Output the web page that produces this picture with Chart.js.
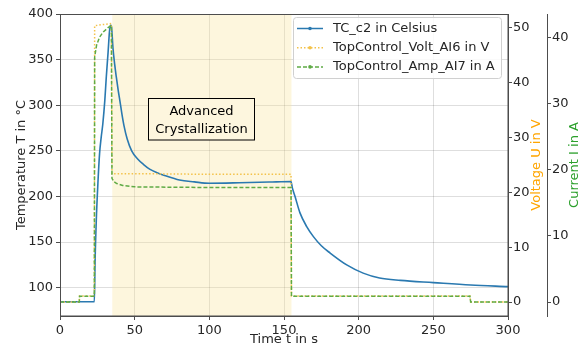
<!DOCTYPE html>
<html>
<head>
<meta charset="utf-8">
<script src="https://cdn.jsdelivr.net/npm/chart.js@4"></script>
<style>
  html, body { margin: 0; padding: 0; background: #fff; }
  #wrap { width: 585px; height: 349px; }
</style>
</head>
<body>
<div id="wrap"><canvas id="tempChart" width="585" height="349"></canvas></div>
<script>
// values
const tempTime = [0, 23.0, 23.5, 24.3, 25.4, 26.5, 27.6, 28.7, 30.0, 31.0, 32.2, 33.2, 34.0, 34.5, 35.5, 36.6, 37.7, 39.0, 40.0, 41.5, 42.8, 45.0, 48.0, 52.0, 56.0, 60.0, 65.0, 70.0, 80.0, 90.0, 100.0, 120.0, 140.0, 154.7, 155.5, 157.4, 160.7, 165.2, 169.7, 175.0, 180.9, 192.0, 203.0, 214.0, 228.0, 250.0, 275.0, 300.0];
const tempValues = [84.6, 84.6, 130, 174, 215, 247, 265, 280, 305, 331, 358, 382, 388, 386, 362, 345, 331, 316, 306, 290, 278, 263, 250, 241, 235, 230, 226, 223, 218, 216, 214.5, 215, 215.8, 216.4, 210, 200, 182, 167, 156, 146, 138, 125, 116, 110.6, 108, 105.6, 103, 101.2];

const voltTime = [0, 12.9, 13.1, 23.0, 23.2, 28.0, 34.4, 34.8, 60.0, 100.0, 154.7, 155.0, 274.5, 275.0, 300.0];
const voltValues = [0, 0, 1.1, 1.1, 50.4, 50.6, 50.8, 23.4, 23.4, 23.3, 23.3, 1.1, 1.1, 0, 0];

const ampTime = [0, 12.9, 13.1, 23.0, 23.2, 24.5, 26.5, 29.0, 32.0, 34.4, 34.8, 36.0, 38.0, 42.0, 50.0, 100.0, 154.7, 155.0, 274.5, 275.0, 300.0];
const ampValues = [0, 0, 0.9, 0.9, 37.0, 38.8, 40.0, 40.8, 41.4, 41.8, 18.7, 18.2, 17.9, 17.6, 17.4, 17.3, 17.3, 0.9, 0.9, 0, 0];

const timeTicks = [0, 50, 100, 150, 200, 250, 300];
const tempTicks = [100, 150, 200, 250, 300, 350, 400];
const voltTicks = [0, 10, 20, 30, 40, 50];
const ampTicks = [0, 10, 20, 30, 40];

const phaseStart = 35;
const phaseEnd = 155;
const phaseLabel = ["Advanced", "Crystallization"];

const seriesNames = ["TC_c2 in Celsius", "TopControl_Volt_AI6 in V", "TopControl_Amp_AI7 in A"];
const colors = ["#2a79b0", "#f3c24a", "#5fab45"];

function pairs(xs, ys) {
  return xs.map((x, i) => ({ x: x, y: ys[i] }));
}

Chart.defaults.font.family = "'DejaVu Sans', sans-serif";
Chart.defaults.font.size = 13;
Chart.defaults.color = "#262626";

const spine = "#4d4d4d";
const gridColor = "rgba(0,0,0,0.13)";

// shaded phase behind the lines
const phasePlugin = {
  id: "phase",
  beforeDatasetsDraw(chart) {
    const { ctx, chartArea, scales } = chart;
    const x1 = scales.x.getPixelForValue(phaseStart);
    const x2 = scales.x.getPixelForValue(phaseEnd);
    ctx.save();
    ctx.fillStyle = "rgba(250,228,150,0.32)";
    ctx.fillRect(x1, chartArea.top, x2 - x1, chartArea.bottom - chartArea.top);
    ctx.restore();
  }
};

// frame, titles, annotation box and legend
const decorPlugin = {
  id: "decor",
  afterDraw(chart) {
    const { ctx, chartArea } = chart;
    ctx.save();
    ctx.strokeStyle = spine;
    ctx.lineWidth = 1;
    ctx.strokeRect(chartArea.left + 0.5, chartArea.top + 0.5, chartArea.right - chartArea.left - 0.5, chartArea.bottom - chartArea.top - 0.5);

    ctx.font = "13px 'DejaVu Sans'";
    ctx.textAlign = "center";
    ctx.textBaseline = "middle";
    const midY = (chartArea.top + chartArea.bottom) / 2;

    ctx.fillStyle = "#262626";
    ctx.fillText("Time t in s", (chartArea.left + chartArea.right) / 2, 340);

    const vTitle = [["Temperature T in °C", 22, "#262626"], ["Voltage U in V", 537, "#ffa500"], ["Current I in A", 575, "#2ca02c"]];
    vTitle.forEach(([txt, x, c]) => {
      ctx.save();
      ctx.translate(x, midY);
      ctx.rotate(-Math.PI / 2);
      ctx.fillStyle = c;
      ctx.fillText(txt, 0, 0);
      ctx.restore();
    });

    // annotation
    const bx = 148.5, by = 98.5, bw = 106, bh = 41.5;
    ctx.fillStyle = "#fdf6de";
    ctx.fillRect(bx, by, bw, bh);
    ctx.strokeStyle = "#000";
    ctx.strokeRect(bx, by, bw, bh);
    ctx.fillStyle = "#000";
    ctx.fillText(phaseLabel[0], bx + bw / 2, 111.7);
    ctx.fillText(phaseLabel[1], bx + bw / 2, 129.3);

    // legend
    const lx = 293, ly = 17, lw = 208, lh = 61;
    ctx.beginPath();
    ctx.roundRect(lx + 0.5, ly + 0.5, lw, lh, 3);
    ctx.fillStyle = "rgba(255,255,255,0.85)";
    ctx.fill();
    ctx.strokeStyle = "#d0d0d0";
    ctx.stroke();
    const dashes = [[], [1.5, 2], [4, 2]];
    seriesNames.forEach((name, i) => {
      const y = 28.5 + i * 19.2;
      ctx.beginPath();
      ctx.setLineDash(dashes[i]);
      ctx.strokeStyle = colors[i];
      ctx.lineWidth = 1.5;
      ctx.moveTo(297, y);
      ctx.lineTo(323, y);
      ctx.stroke();
      ctx.setLineDash([]);
      ctx.beginPath();
      ctx.fillStyle = colors[i];
      ctx.arc(310, y, 1.8, 0, Math.PI * 2);
      ctx.fill();
      ctx.textAlign = "left";
      ctx.fillStyle = "#262626";
      ctx.fillText(name, 333, y);
    });
    ctx.restore();
  }
};

function fixedTicks(list) {
  return function (axis) {
    axis.ticks = list.map(v => ({ value: v }));
  };
}

const ctx = document.getElementById("tempChart").getContext("2d");

const chart = new Chart(ctx, {
  type: "line",
  data: {
    datasets: [
      {
        label: seriesNames[0],
        data: pairs(tempTime, tempValues),
        yAxisID: "y",
        borderColor: colors[0],
        borderWidth: 1.6,
        pointRadius: 0,
        cubicInterpolationMode: "monotone",
        order: 3
      },
      {
        label: seriesNames[1],
        data: pairs(voltTime, voltValues),
        yAxisID: "yV",
        borderColor: colors[1],
        borderWidth: 1.5,
        borderDash: [1.5, 2],
        pointRadius: 0,
        order: 2
      },
      {
        label: seriesNames[2],
        data: pairs(ampTime, ampValues),
        yAxisID: "yA",
        borderColor: colors[2],
        borderWidth: 1.5,
        borderDash: [4, 2],
        pointRadius: 0,
        order: 1
      }
    ]
  },
  options: {
    responsive: false,
    animation: false,
    layout: { padding: { top: 14, left: 0, right: 0, bottom: 0 } },
    plugins: {
      legend: { display: false },
      tooltip: { enabled: false }
    },
    elements: { line: { tension: 0 } },
    scales: {
      x: {
        type: "linear",
        min: 0,
        max: 300,
        afterBuildTicks: fixedTicks(timeTicks),
        afterFit(axis) { axis.height = 33; },
        grid: { color: gridColor, tickLength: 4, tickColor: spine },
        border: { color: spine },
        ticks: { padding: 3, maxRotation: 0, callback: v => v }
      },
      y: {
        position: "left",
        min: 69,
        max: 400,
        afterBuildTicks: fixedTicks(tempTicks),
        afterFit(axis) { axis.width = 60; },
        grid: { color: gridColor, tickLength: 4, tickColor: spine },
        border: { color: spine },
        ticks: { padding: 3, callback: v => v }
      },
      yV: {
        position: "right",
        min: -2.55,
        max: 52.55,
        afterBuildTicks: fixedTicks(voltTicks),
        afterFit(axis) { axis.width = 39; },
        grid: { drawOnChartArea: false, tickLength: 4, tickColor: spine },
        border: { color: spine },
        ticks: { padding: 1, callback: v => v }
      },
      yA: {
        position: "right",
        min: -2.1,
        max: 43.5,
        afterBuildTicks: fixedTicks(ampTicks),
        afterFit(axis) { axis.width = 38; },
        grid: { drawOnChartArea: false, tickLength: 4, tickColor: spine },
        border: { color: spine },
        ticks: { padding: 1, callback: v => v }
      }
    }
  },
  plugins: [phasePlugin, decorPlugin]
});
</script>
</body>
</html>
